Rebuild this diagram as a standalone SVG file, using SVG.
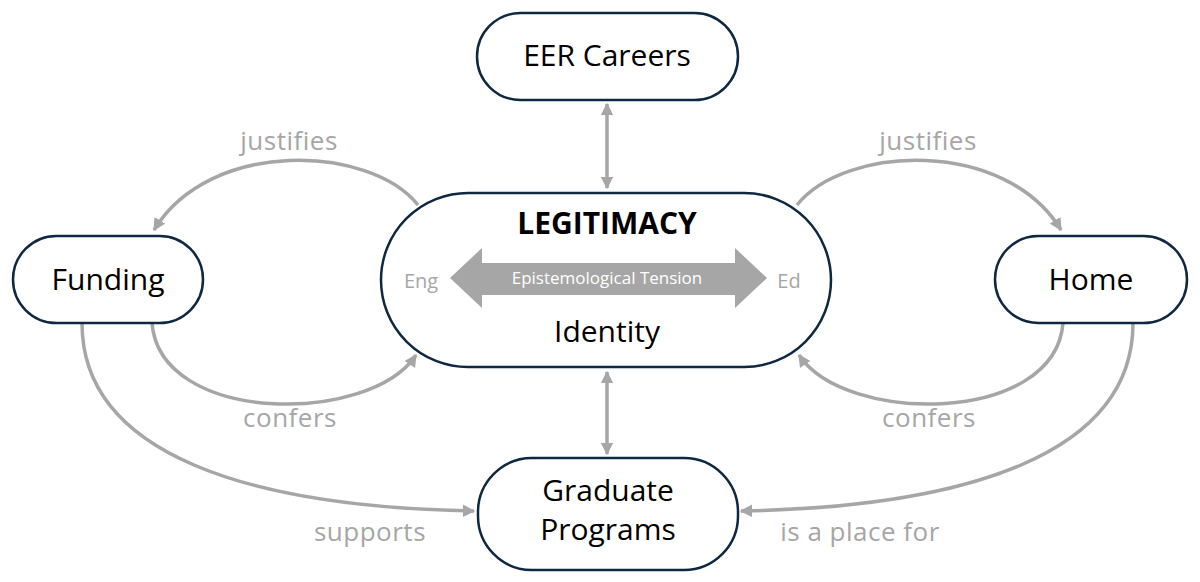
<svg xmlns="http://www.w3.org/2000/svg" width="1200" height="582" viewBox="0 0 1200 582">
<defs>
<style>
.node{fill:#ffffff;stroke:#0e2841;stroke-width:2.5}
.lbl{font-family:"Open Sans","Liberation Sans",sans-serif;font-size:30px;fill:#000000;text-anchor:middle}
.edge{fill:none;stroke:#a6a6a6;stroke-width:3.5}
.elbl{font-family:"Open Sans","Liberation Sans",sans-serif;font-size:26px;fill:#a6a6a6;text-anchor:middle;letter-spacing:0.5px}
.side{font-family:"Open Sans","Liberation Sans",sans-serif;font-size:20px;fill:#a6a6a6;text-anchor:middle}
</style>
<marker id="ah" viewBox="0 0 10 10" refX="9" refY="5" markerWidth="3.6" markerHeight="3.6" orient="auto-start-reverse" markerUnits="strokeWidth">
<path d="M0,0 L10,5 L0,10 Z" fill="#a6a6a6"/>
</marker>
</defs>
<rect width="1200" height="582" fill="#ffffff"/>
<g id="connectors">
<path class="edge" d="M607,104 L607,188" marker-start="url(#ah)" marker-end="url(#ah)"/>
<path class="edge" d="M607,372 L607,454" marker-start="url(#ah)" marker-end="url(#ah)"/>
<path class="edge" d="M418,205 C370,145 210,138 154,230" marker-end="url(#ah)"/>
<path class="edge" d="M152,323 C160,425 370,425 416,355" marker-end="url(#ah)"/>
<path class="edge" d="M797,205 C845,145 1005,138 1061,230" marker-end="url(#ah)"/>
<path class="edge" d="M1063,323 C1055,425 845,425 799,355" marker-end="url(#ah)"/>
<path class="edge" d="M82,323 C82,455 250,507 474,511" marker-end="url(#ah)"/>
<path class="edge" d="M1133,323 C1133,455 965,507 741,511" marker-end="url(#ah)"/>
<text class="elbl" x="289" y="150">justifies</text>
<text class="elbl" x="928" y="150">justifies</text>
<text class="elbl" x="290" y="427">confers</text>
<text class="elbl" x="929" y="427">confers</text>
<text class="elbl" x="370" y="541">supports</text>
<text class="elbl" x="860" y="541">is a place for</text>
</g>
<g id="eer-careers">
<rect class="node" x="477" y="13" width="261" height="87" rx="43.5"/>
<text class="lbl" x="607" y="66">EER Careers</text>
</g>
<g id="legitimacy">
<rect class="node" x="381" y="193" width="450" height="174" rx="87"/>
<text class="lbl" x="607" y="234" font-weight="bold">LEGITIMACY</text>
<polygon points="450,278 482,248 482,263 735,263 735,248 767,278 735,308 735,295 482,295 482,308" fill="#a6a6a6"/>
<text x="607" y="284" font-family="Open Sans, Liberation Sans, sans-serif" font-size="17" fill="#ffffff" text-anchor="middle">Epistemological Tension</text>
<text class="side" x="421" y="288">Eng</text>
<text class="side" x="789" y="288">Ed</text>
<text class="lbl" x="607" y="342">Identity</text>
</g>
<g id="funding">
<rect class="node" x="13" y="236" width="190" height="87" rx="43.5"/>
<text class="lbl" x="108" y="290">Funding</text>
</g>
<g id="home">
<rect class="node" x="995" y="236" width="192" height="87" rx="43.5"/>
<text class="lbl" x="1091" y="290">Home</text>
</g>
<g id="graduate-programs">
<rect class="node" x="478" y="458" width="260" height="112" rx="54"/>
<text class="lbl" x="608" y="501">Graduate</text>
<text class="lbl" x="608" y="540">Programs</text>
</g>
</svg>
